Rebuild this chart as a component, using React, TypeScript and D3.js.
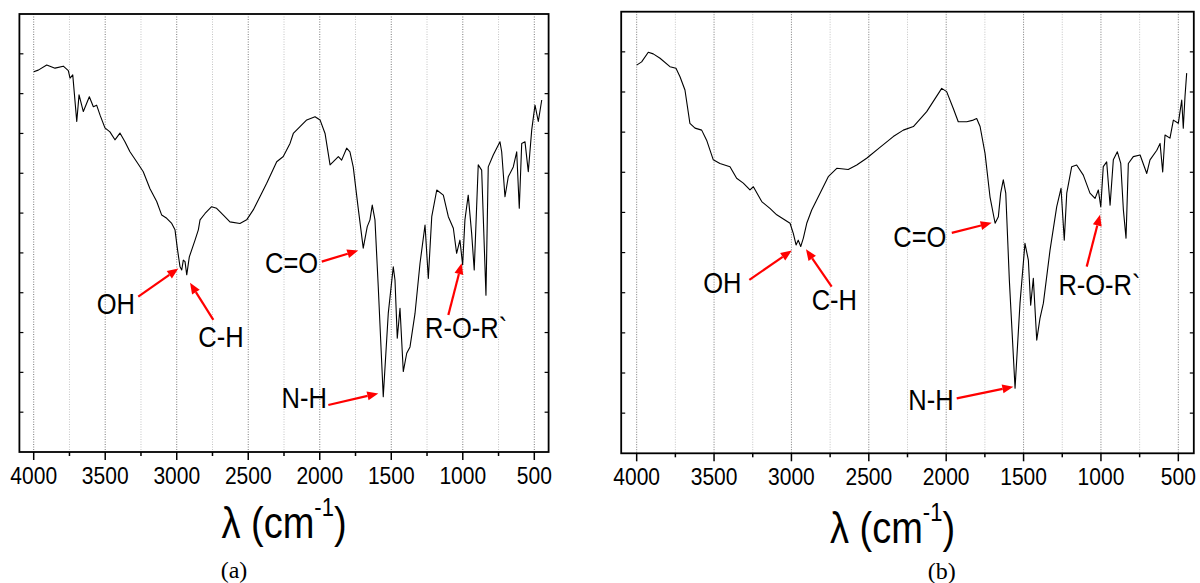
import React from "react";
import * as d3 from "d3";

// ---------- data ----------
const leftWN = [4000,3968,3909,3851,3793,3758,3746,3727,3699,3683,
3653,3611,3583,3560,3536,3502,3467,3432,3397,3362,
3327,3280,3234,3187,3140,3105,3070,3035,3012,2996,
2977,2965,2954,2942,2930,2912,2872,2849,2837,2802,
2756,2721,2674,2628,2558,2511,2465,2406,2371,2301,
2255,2208,2185,2138,2091,2033,1998,1963,1928,1905,
1870,1847,1812,1789,1766,1731,1696,1668,1649,1633,
1614,1591,1556,1521,1486,1474,1458,1439,1416,1392,
1369,1334,1299,1264,1241,1217,1182,1136,1101,1066,
1043,1020,1001,985,962,938,920,892,868,838,
822,787,740,728,705,682,647,623,605,588,
565,542,518,495,472,448];
const leftT = [95.5,95.9,97.2,96.4,96.9,95.8,93.9,94.7,83.0,89.7,
85.5,89.2,86.7,87.1,84.6,81.4,80.4,78.4,80.1,77.9,
75.4,72.9,70.4,66.1,62.9,59.5,58.7,57.4,55.8,51.2,
46.5,45.7,48.2,47.8,44.5,49.0,53.2,55.8,58.3,59.9,
61.6,61.2,59.5,57.8,57.4,58.3,60.8,65.0,67.5,72.9,
74.2,77.5,80.0,81.7,83.4,84.2,83.4,80.0,72.1,72.9,
74.2,73.3,76.3,75.4,71.6,61.2,51.2,56.6,58.3,62.0,
58.3,41.5,13.9,34.8,46.5,43.2,28.6,36.1,20.2,24.8,
26.4,34.8,47.4,57.0,43.6,59.1,65.8,64.5,59.1,56.2,
49.9,53.2,47.0,58.3,64.5,54.9,45.7,72.1,70.8,39.4,
71.6,74.6,77.9,75.4,64.1,69.1,71.6,75.4,61.2,77.5,
77.9,70.4,80.9,87.1,83.0,88.4];

const rightWN = [4000,3968,3925,3893,3849,3785,3746,3720,3688,3656,
3623,3580,3548,3505,3462,3397,3354,3311,3268,3246,
3192,3139,3095,3042,3009,2988,2970,2956,2940,2923,
2901,2869,2815,2762,2707,2633,2578,2514,2428,2342,
2277,2212,2126,2029,1997,1954,1922,1867,1825,1803,
1781,1749,1717,1684,1663,1648,1631,1615,1592,1555,
1523,1491,1469,1454,1437,1415,1394,1372,1329,1286,
1258,1237,1221,1189,1157,1114,1071,1038,1017,1001,
985,963,941,920,894,872,855,838,823,791,
747,704,683,639,618,601,586,554,532,500,
478,468,457,446];
const rightT = [96.7,97.5,99.9,99.5,98.4,96.3,95.9,93.8,90.5,82.2,
81.0,80.5,78.0,73.1,72.2,71.4,68.5,67.3,65.6,66.4,
62.7,61.0,59.4,58.1,57.3,54.8,51.9,53.1,51.5,53.6,
57.3,60.6,64.8,68.9,71.0,70.7,71.8,73.5,76.2,78.9,
80.5,81.4,85.1,90.9,90.1,85.9,82.6,82.6,83.0,83.4,
81.4,74.7,63.9,57.3,58.9,64.8,68.1,64.8,43.2,16.2,
37.4,52.3,48.1,36.9,43.6,28.2,33.6,37.4,50.6,61.4,
66.0,53.1,64.8,71.4,71.8,69.3,64.8,63.5,65.6,61.4,
71.4,72.6,61.8,73.1,75.1,72.2,60.6,53.6,72.2,73.9,
74.3,69.7,73.1,75.5,77.2,70.1,79.3,78.5,83.0,82.2,
88.0,81.0,88.8,94.7];

const majorTicks = [4000, 3500, 3000, 2500, 2000, 1500, 1000, 500];
const minorTicks = [3750, 3250, 2750, 2250, 1750, 1250, 750];
const yTicks = [10, 20, 30, 40, 50, 60, 70, 80, 90, 100];

// annotations: label, text anchor (wn, T), arrow tail (wn, T), arrow tip (wn, T)
const leftLabels = ["OH", "C-H", "C=O", "N-H", "R-O-R`"];
const leftTextWN = [3560, 2849, 2383, 2267, 1264];
const leftTextT = [34.7, 26.4, 45.0, 11.0, 28.6];
const leftTailWN = [3269, 2744, 1986, 1940, 1101];
const leftTailT = [39.0, 33.2, 47.8, 11.8, 34.4];
const leftTipWN = [2989, 2907, 1731, 1591, 1008];
const leftTipT = [46.1, 42.5, 50.6, 14.7, 47.4];

const rightLabels = ["OH", "C-H", "C=O", "N-H", "R-O-R`"];
const rightTextWN = [3570, 2869, 2342, 2245, 1275];
const rightTextT = [39.9, 35.7, 51.5, 10.8, 39.4];
const rightTailWN = [3272, 2740, 1964, 1932, 1092];
const rightTailT = [43.2, 41.5, 54.9, 13.7, 46.5];
const rightTipWN = [2998, 2906, 1706, 1566, 1006];
const rightTipT = [50.5, 50.8, 57.4, 16.6, 59.4];

const SANS = "'Liberation Sans', Arial, Helvetica, sans-serif";
const SERIF = "'Liberation Serif', 'Times New Roman', serif";

type PanelProps = {
  x0: number; x1: number; y0: number; y1: number;
  wn: number[]; t: number[];
  labels: string[]; textWN: number[]; textT: number[];
  tailWN: number[]; tailT: number[]; tipWN: number[]; tipT: number[];
  titleX: number; titleY: number; capX: number; capY: number; cap: string;
};

function Panel(p: PanelProps) {
  const x = d3.scaleLinear().domain([4100, 400]).range([p.x0, p.x1]);
  const y = d3.scaleLinear().domain([0, 110]).range([p.y1, p.y0]);
  const pts = p.wn.map((w, i) => [w, p.t[i]] as [number, number]);
  const line = d3.line<[number, number]>().x(d => x(d[0])).y(d => y(d[1]));
  const stretch = 1.16;
  return (
    <g>
      {minorTicks.map(v => (
        <line key={"gm" + v} x1={x(v)} x2={x(v)} y1={p.y0} y2={p.y1}
          stroke="#c4c4c4" strokeWidth={1} strokeDasharray="1,1.5" />
      ))}
      {majorTicks.map(v => (
        <line key={"gM" + v} x1={x(v)} x2={x(v)} y1={p.y0} y2={p.y1}
          stroke="#7a7a7a" strokeWidth={1} strokeDasharray="1,1.5" />
      ))}
      <path d={line(pts) || ""} fill="none" stroke="#000" strokeWidth={1.1} strokeLinejoin="round" />
      <rect x={p.x0} y={p.y0} width={p.x1 - p.x0} height={p.y1 - p.y0}
        fill="none" stroke="#000" strokeWidth={1.8} />
      {yTicks.map(v => (
        <g key={"yt" + v}>
          <line x1={p.x0} x2={p.x0 + 4} y1={y(v)} y2={y(v)} stroke="#000" strokeWidth={1.2} />
          <line x1={p.x1} x2={p.x1 - 4} y1={y(v)} y2={y(v)} stroke="#000" strokeWidth={1.2} />
        </g>
      ))}
      {majorTicks.map(v => (
        <line key={"tM" + v} x1={x(v)} x2={x(v)} y1={p.y1} y2={p.y1 + 8} stroke="#000" strokeWidth={1.5} />
      ))}
      {minorTicks.map(v => (
        <line key={"tm" + v} x1={x(v)} x2={x(v)} y1={p.y1} y2={p.y1 + 4} stroke="#000" strokeWidth={1.5} />
      ))}
      {majorTicks.map(v => (
        <text key={"tl" + v} transform={`translate(${x(v)},${p.y1 + 32}) scale(1,${stretch})`}
          textAnchor="middle" fontFamily={SANS} fontSize={21} fill="#000">{v}</text>
      ))}
      {p.labels.map((lab, i) => {
        const tx = x(p.tailWN[i]), ty = y(p.tailT[i]);
        const hx = x(p.tipWN[i]), hy = y(p.tipT[i]);
        const ang = Math.atan2(hy - ty, hx - tx);
        const L = 11, W = 4.5;
        const bx = hx - L * Math.cos(ang), by = hy - L * Math.sin(ang);
        const px = -Math.sin(ang) * W, py = Math.cos(ang) * W;
        return (
          <g key={"an" + i}>
            <line x1={tx} y1={ty} x2={bx} y2={by} stroke="#ff0000" strokeWidth={2.2} />
            <polygon points={`${hx},${hy} ${bx + px},${by + py} ${bx - px},${by - py}`} fill="#ff0000" />
            <text transform={`translate(${x(p.textWN[i])},${y(p.textT[i])}) scale(1,${stretch})`}
              fontFamily={SANS} fontSize={25.5} fill="#000">{lab}</text>
          </g>
        );
      })}
      <text transform={`translate(${p.titleX},${p.titleY}) scale(1,${stretch})`}
        textAnchor="middle" fontFamily={SANS} fontSize={38} fill="#000">
        λ (cm<tspan fontSize={22} dy={-19}>-1</tspan><tspan dy={19}>)</tspan>
      </text>
      <text x={p.capX} y={p.capY} textAnchor="middle" fontFamily={SERIF} fontSize={24} fill="#000">{p.cap}</text>
    </g>
  );
}

export default function App() {
  return (
    <svg width={1200} height={583} style={{ position: "absolute", left: 0, top: 0, background: "#fff" }}>
      <rect x={0} y={0} width={1200} height={583} fill="#fff" />
      <Panel x0={19.4} x1={548.6} y0={14} y1={452}
        wn={leftWN} t={leftT}
        labels={leftLabels} textWN={leftTextWN} textT={leftTextT}
        tailWN={leftTailWN} tailT={leftTailT} tipWN={leftTipWN} tipT={leftTipT}
        titleX={284} titleY={538} capX={234} capY={578} cap="(a)" />
      <Panel x0={621.2} x1={1193.8} y0={11.7} y1={453.3}
        wn={rightWN} t={rightT}
        labels={rightLabels} textWN={rightTextWN} textT={rightTextT}
        tailWN={rightTailWN} tailT={rightTailT} tipWN={rightTipWN} tipT={rightTipT}
        titleX={892.5} titleY={543} capX={941.7} capY={579} cap="(b)" />
    </svg>
  );
}
